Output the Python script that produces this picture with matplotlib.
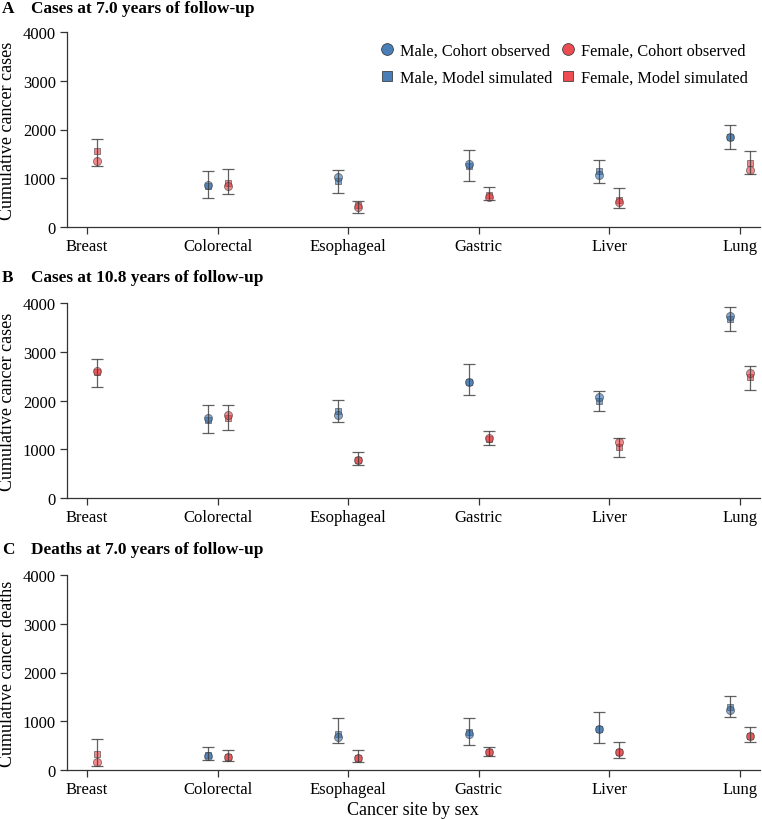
import numpy as np
import matplotlib.pyplot as plt
from matplotlib.lines import Line2D

plt.rcParams['font.family'] = ['Liberation Serif', 'DejaVu Serif']

sites = ['Breast', 'Colorectal', 'Esophageal', 'Gastric', 'Liver', 'Lung']
nan = np.nan

# Panel A: cases at 7.0 years
a_male_obs = [nan, 855, 1019, 1292, 1067, 1853]
a_male_sim = [nan, 850, 944, 1260, 1149, 1840]
a_male_lo = [nan, 588, 697, 944, 909, 1600]
a_male_hi = [nan, 1149, 1176, 1573, 1368, 2099]
a_fem_obs = [1347, 834, 420, 620, 506, 1169]
a_fem_sim = [1565, 896, 450, 660, 561, 1306]
a_fem_lo = [1251, 684, 281, 547, 396, 1087]
a_fem_hi = [1799, 1183, 533, 814, 793, 1566]

# Panel B: cases at 10.8 years
b_male_obs = [nan, 1648, 1703, 2373, 2065, 3740]
b_male_sim = [nan, 1606, 1785, 2380, 1996, 3672]
b_male_lo = [nan, 1340, 1566, 2107, 1785, 3426]
b_male_hi = [nan, 1901, 2017, 2743, 2201, 3918]
b_fem_obs = [2600, 1703, 786, 1224, 1142, 2557]
b_fem_sim = [2590, 1648, 780, 1220, 1040, 2476]
b_fem_lo = [2277, 1388, 677, 1087, 835, 2215]
b_fem_hi = [2845, 1915, 950, 1381, 1237, 2715]

# Panel C: deaths at 7.0 years
c_male_obs = [nan, 290, 670, 740, 834, 1237]
c_male_sim = [nan, 308, 732, 770, 840, 1286]
c_male_lo = [nan, 211, 547, 513, 561, 1087]
c_male_hi = [nan, 472, 1073, 1073, 1190, 1518]
c_fem_obs = [170, 267, 253, 362, 362, 691]
c_fem_sim = [328, 267, 253, 362, 362, 691]
c_fem_lo = [88, 178, 164, 280, 246, 574]
c_fem_hi = [636, 417, 410, 479, 568, 876]

panels = [
    ('A', 'Cases at 7.0 years of follow-up', 'Cumulative cancer cases',
     a_male_obs, a_male_sim, a_male_lo, a_male_hi, a_fem_obs, a_fem_sim, a_fem_lo, a_fem_hi),
    ('B', 'Cases at 10.8 years of follow-up', 'Cumulative cancer cases',
     b_male_obs, b_male_sim, b_male_lo, b_male_hi, b_fem_obs, b_fem_sim, b_fem_lo, b_fem_hi),
    ('C', 'Deaths at 7.0 years of follow-up', 'Cumulative cancer deaths',
     c_male_obs, c_male_sim, c_male_lo, c_male_hi, c_fem_obs, c_fem_sim, c_fem_lo, c_fem_hi),
]

blue = '#3570b0'
red = '#ec3a3f'
edge = '#333333'

W, H = 762, 820
fig = plt.figure(figsize=(W / 100, H / 100), dpi=100)

ax_px = [(33, 228), (304, 499), (576, 771)]  # top, bottom in pixels
title_y = [9, 278.5, 550]
left, right = 67, 760
x = np.arange(len(sites))
off = 0.077

for i, (letter, title, ylab, mo, ms, mlo, mhi, fo, fs, flo, fhi) in enumerate(panels):
    top, bot = ax_px[i]
    ax = fig.add_axes([left / W, 1 - bot / H, (right - left) / W, (bot - top) / H])
    for xs, obs, sim, lo, hi, col in [(x - off, mo, ms, mlo, mhi, blue),
                                      (x + off, fo, fs, flo, fhi, red)]:
        obs = np.array(obs, float)
        sim = np.array(sim, float)
        lo = np.array(lo, float)
        hi = np.array(hi, float)
        mid = (lo + hi) / 2
        ax.errorbar(xs, mid, yerr=[mid - lo, hi - mid], fmt='none', ecolor='#3a3a3a',
                    elinewidth=0.9, capsize=4, capthick=0.9, alpha=0.8, zorder=3)
        ax.scatter(xs, sim, marker='s', s=24, color=col, alpha=0.6,
                   edgecolors=edge, linewidths=0.6, zorder=2)
        ax.scatter(xs, obs, marker='o', s=34, color=col, alpha=0.6,
                   edgecolors=edge, linewidths=0.6, zorder=2)

    ax.set_xlim(-0.153, 5.153)
    ax.set_ylim(0, 4000)
    ax.set_yticks([0, 1000, 2000, 3000, 4000])
    ax.set_xticks(x)
    ax.set_xticklabels(sites)
    for s in ['top', 'right']:
        ax.spines[s].set_visible(False)
    for s in ['left', 'bottom']:
        ax.spines[s].set_color(edge)
        ax.spines[s].set_linewidth(0.9)
    ax.tick_params(axis='both', labelsize=12, length=5, width=0.9, color=edge, pad=3)

    fig.text(2 / W, 1 - title_y[i] / H, letter, fontsize=12.4, fontweight='bold', va='center')
    fig.text(31 / W, 1 - title_y[i] / H, title, fontsize=12.4, fontweight='bold', va='center')
    fig.text(8 / W, 1 - (top + bot) / 2 / H, ylab, fontsize=13, rotation=90,
             ha='center', va='center')

    if i == 0:
        handles = [
            Line2D([], [], ls='none', marker='o', ms=8.5, mfc=blue, mec=edge, mew=0.6, alpha=0.9),
            Line2D([], [], ls='none', marker='s', ms=7.5, mfc=blue, mec=edge, mew=0.6, alpha=0.9),
            Line2D([], [], ls='none', marker='o', ms=8.5, mfc=red, mec=edge, mew=0.6, alpha=0.9),
            Line2D([], [], ls='none', marker='s', ms=7.5, mfc=red, mec=edge, mew=0.6, alpha=0.9),
        ]
        labels = ['Male, Cohort observed', 'Male, Model simulated',
                  'Female, Cohort observed', 'Female, Model simulated']
        ax.legend(handles, labels, ncol=2, frameon=False, fontsize=11.7,
                  loc='upper right', bbox_to_anchor=(0.997, 0.995),
                  handlelength=0.8, handletextpad=0.4, columnspacing=0.6,
                  labelspacing=0.7, borderaxespad=0.2)

fig.text(413 / W, 1 - 811 / H, 'Cancer site by sex', fontsize=13, ha='center', va='center')

fig.savefig('out.png', dpi=100)
